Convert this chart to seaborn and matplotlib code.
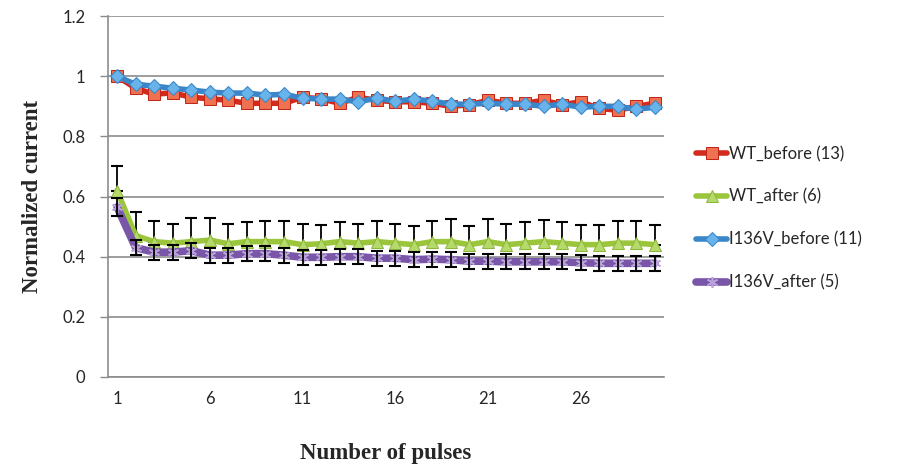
import numpy as np
import pandas as pd
import matplotlib
matplotlib.use('Agg')
import matplotlib.pyplot as plt
import seaborn as sns

# Data
pulses = list(range(1, 31))
wt_before = [1.0, 0.96, 0.94, 0.945, 0.93, 0.925, 0.92, 0.91, 0.91, 0.91,
             0.93, 0.925, 0.91, 0.93, 0.92, 0.915, 0.915, 0.91, 0.90, 0.905,
             0.92, 0.91, 0.91, 0.92, 0.905, 0.915, 0.893, 0.887, 0.90, 0.91]
wt_after = [0.62, 0.47, 0.45, 0.445, 0.45, 0.455, 0.443, 0.45, 0.45, 0.45,
            0.44, 0.443, 0.45, 0.445, 0.45, 0.445, 0.44, 0.45, 0.45, 0.44,
            0.45, 0.44, 0.445, 0.45, 0.445, 0.44, 0.44, 0.445, 0.445, 0.44]
wt_after_err = [0.08, 0.08, 0.07, 0.065, 0.078, 0.073, 0.067, 0.066, 0.068, 0.07,
                0.07, 0.062, 0.066, 0.065, 0.068, 0.065, 0.063, 0.07, 0.075, 0.063,
                0.075, 0.07, 0.07, 0.073, 0.07, 0.065, 0.065, 0.075, 0.075, 0.065]
i136v_before = [1.0, 0.973, 0.967, 0.96, 0.954, 0.947, 0.944, 0.944, 0.937, 0.94,
                0.927, 0.924, 0.924, 0.915, 0.927, 0.917, 0.924, 0.917, 0.907, 0.907,
                0.91, 0.907, 0.907, 0.90, 0.907, 0.897, 0.90, 0.90, 0.89, 0.897]
i136v_after = [0.565, 0.43, 0.415, 0.415, 0.42, 0.405, 0.405, 0.41, 0.41, 0.405,
               0.398, 0.398, 0.40, 0.40, 0.395, 0.395, 0.39, 0.392, 0.39, 0.385,
               0.385, 0.383, 0.383, 0.383, 0.383, 0.38, 0.378, 0.378, 0.378, 0.378]
i136v_after_err = [0.03] + [0.025] * 29

labels = ['WT_before (13)', 'WT_after (6)', 'I136V_before (11)', 'I136V_after (5)']
xtick_labels = [1, 6, 11, 16, 21, 26]

sns.set_style('white')
plt.rcParams['font.family'] = ['Lato', 'DejaVu Sans']

fig = plt.figure(figsize=(9.06, 4.73), dpi=100)
ax = fig.add_axes([0.119, 0.203, 0.614, 0.763])

series = [
    (wt_before, labels[0], '#D42A1E', 4,
     dict(marker='s', markersize=8, markerfacecolor='#F0714F', markeredgecolor='#C0281C')),
    (wt_after, labels[1], '#9BC63B', 4,
     dict(marker='^', markersize=9, markerfacecolor='#B5D96A', markeredgecolor='#8DB83A')),
    (i136v_before, labels[2], '#3A86C8', 4,
     dict(marker='D', markersize=7, markerfacecolor='#67B3EA', markeredgecolor='#3A86C8')),
    (i136v_after, labels[3], '#7A56A8', 5.5,
     dict(marker=(6, 2, 0), markersize=8, markeredgewidth=1.2, markeredgecolor='#B9A3DA')),
]

for i, (vals, lab, col, lw, mk) in enumerate(series):
    df = pd.DataFrame({'pulse': pulses, 'value': vals})
    sns.lineplot(data=df, x='pulse', y='value', ax=ax, color=col, linewidth=lw,
                 label=lab, zorder=3 + i, **mk)
    if lab == labels[1]:
        ax.errorbar(pulses, vals, yerr=[np.zeros(len(vals)), wt_after_err], fmt='none',
                    ecolor='black', elinewidth=1.3, capsize=4, capthick=1.5, zorder=3.5)
    if lab == labels[3]:
        ax.errorbar(pulses, vals, yerr=i136v_after_err, fmt='none',
                    ecolor='black', elinewidth=1.3, capsize=4, capthick=1.5, zorder=7)

ax.set_xlim(0.5, 30.5)
ax.set_ylim(0, 1.2)
ax.set_yticks(np.arange(0, 1.21, 0.2))
ax.set_yticklabels(['0', '0.2', '0.4', '0.6', '0.8', '1', '1.2'])
ax.set_xticks(xtick_labels)
ax.set_xticklabels([str(t) for t in xtick_labels])
ax.set_xticks(np.arange(0.5, 31, 1), minor=True)
ax.tick_params(axis='x', which='major', length=0, labelsize=12, pad=10)
ax.tick_params(axis='x', which='minor', length=6, color='#8c8c8c', width=1, direction='out')
ax.tick_params(axis='y', length=6, color='#8c8c8c', width=1, direction='out', labelsize=12,
               left=True, pad=10)
ax.yaxis.grid(True, color='#8c8c8c', linewidth=1.2)
ax.set_axisbelow(True)
for s in ['top', 'right']:
    ax.spines[s].set_visible(False)
for s in ['left', 'bottom']:
    ax.spines[s].set_color('#8c8c8c')
    ax.spines[s].set_linewidth(1.2)

ax.set_xlabel('Number of pulses', fontfamily='Liberation Serif', fontweight='bold', fontsize=16.5, labelpad=26)
ax.set_ylabel('Normalized current', fontfamily='Liberation Serif', fontweight='bold', fontsize=16.5, labelpad=14)

leg = ax.legend(loc='center left', bbox_to_anchor=(1.0, 0.44), frameon=False, fontsize=12,
                handlelength=1.9, handletextpad=0.1, labelspacing=1.6, borderaxespad=1.5)

fig.savefig('out.png', dpi=100)
